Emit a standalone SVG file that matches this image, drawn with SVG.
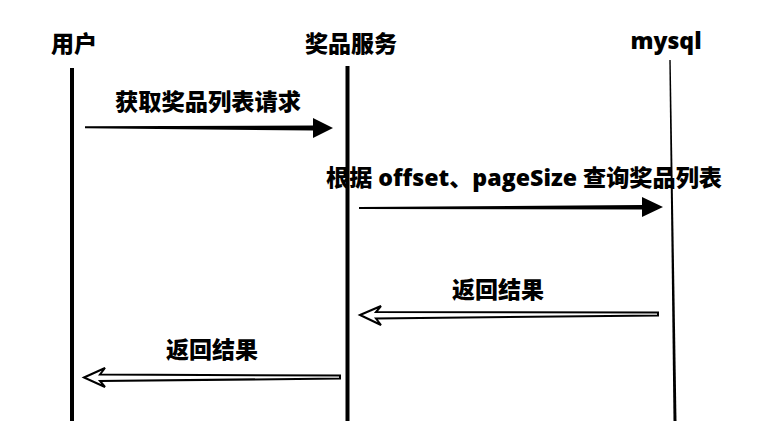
<svg xmlns="http://www.w3.org/2000/svg" width="759" height="421" viewBox="0 0 759 421">
<style>
.t{font-family:"Open Sans","Noto Sans CJK SC",sans-serif;font-weight:800;font-size:23px;fill:#000;text-anchor:middle}
.solid{fill:#000;stroke:none}
.hollow{fill:#fff;stroke:#000;stroke-width:2;stroke-linejoin:miter}
</style>
<rect width="759" height="421" fill="#fff"/>
<g id="user">
<rect x="70" y="68" width="4" height="353" fill="#000"/>
<text class="t" x="74" y="52">用户</text>
</g>
<g id="prize-service">
<rect x="345.5" y="66" width="4" height="355" fill="#000"/>
<text class="t" x="351" y="52">奖品服务</text>
</g>
<g id="mysql">
<polygon points="669.3,60 670.7,60 676.5,421 673.5,421" fill="#000"/>
<text class="t" x="666" y="49">mysql</text>
</g>
<g id="connectors">
<g id="msg1">
<polygon class="solid" points="85,126.3 313,125.5 313,118 333,128 313,138 313,130.5 85,128.3"/>
<text class="t" x="208" y="110" textLength="186" lengthAdjust="spacingAndGlyphs">获取奖品列表请求</text>
</g>
<g id="msg2">
<polygon class="solid" points="359,207 642,205 642,197 663,207 642,217 642,209.5 359,209"/>
<text class="t" x="524" y="186" textLength="396" lengthAdjust="spacingAndGlyphs">根据 offset、pageSize 查询奖品列表</text>
</g>
<g id="msg3">
<polygon class="hollow" points="360,315 381,306 376,312 658,312.5 658,315.5 376,318.5 381,325"/>
<text class="t" x="498" y="298">返回结果</text>
</g>
<g id="msg4">
<polygon class="hollow" points="84,377.5 105,368 100,374.5 340,375.5 340,378.5 100,381 105,387"/>
<text class="t" x="212" y="358">返回结果</text>
</g>
</g>
</svg>
